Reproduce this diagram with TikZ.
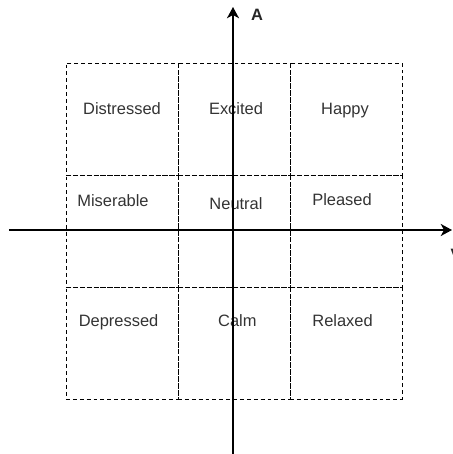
\documentclass[tikz,border=0pt]{standalone}
\usepackage{fontspec}
\setmainfont{Liberation Sans}
\usetikzlibrary{arrows.meta, positioning}

\begin{document}
\begin{tikzpicture}[
		font=\fontsize{11.7}{14}\selectfont,
		% Styles
		cellbox/.style={draw=black, dash pattern=on 2.8pt off 2.1pt, line width=0.7pt, minimum width=2.8cm, minimum height=2.8cm, inner sep=0pt},
		mood/.style={anchor=base, text=black!80},
		axis/.style={-{Stealth[length=0.28cm, width=0.3cm, inset=0.08cm]}, line width=1.4pt},
		axislabel/.style={font=\fontsize{11.7}{14}\selectfont\bfseries, text=black!85}
		]
		
		\useasboundingbox (-5.825,-5.6) rectangle (5.5,5.75);
		
		% =========================================================
		% 1. THE 3x3 GRID OF DASHED CELLS
		% =========================================================
		\node[cellbox] (C11) at (-2.775, 2.775) {};
		\node[cellbox] (C12) at (0.025, 2.775) {};
		\node[cellbox] (C13) at (2.825, 2.775) {};
		
		\node[cellbox] (C21) at (-2.775, -0.025) {};
		\node[cellbox] (C22) at (0.025, -0.025) {};
		\node[cellbox] (C23) at (2.825, -0.025) {};
		
		\node[cellbox] (C31) at (-2.775, -2.825) {};
		\node[cellbox] (C32) at (0.025, -2.825) {};
		\node[cellbox] (C33) at (2.825, -2.825) {};
		
		% =========================================================
		% 2. MOOD LABELS
		% =========================================================
		\node[mood] (Distressed) at (-2.775, 2.875) {Distressed};
		\node[mood] (Excited) at (0.075, 2.875) {Excited};
		\node[mood] (Happy) at (2.8, 2.875) {Happy};
		
		\node[mood] (Miserable) at (-3.0, 0.575) {Miserable};
		\node[mood] (Neutral) at (0.075, 0.5) {Neutral};
		\node[mood] (Pleased) at (2.725, 0.6) {Pleased};
		
		\node[mood] (Depressed) at (-2.86, -2.4) {Depressed};
		\node[mood] (Calm) at (0.11, -2.4) {Calm};
		\node[mood] (Relaxed) at (2.74, -2.4) {Relaxed};
		
		% =========================================================
		% 3. AXES (valence and arousal)
		% =========================================================
		\coordinate (Vstart) at (-5.6, 0);
		\coordinate (Vend) at (5.475, 0);
		\coordinate (Astart) at (0, -5.7);
		\coordinate (Aend) at (0, 5.575);
		
		\draw[axis] (Vstart) -- (Vend);
		\draw[axis] (Astart) -- (Aend);
		
		\node[axislabel] (Vlab) at (5.58, -0.625) {V};
		\node[axislabel] (Alab) at (0.6, 5.375) {A};
		
	\end{tikzpicture}
\end{document}
